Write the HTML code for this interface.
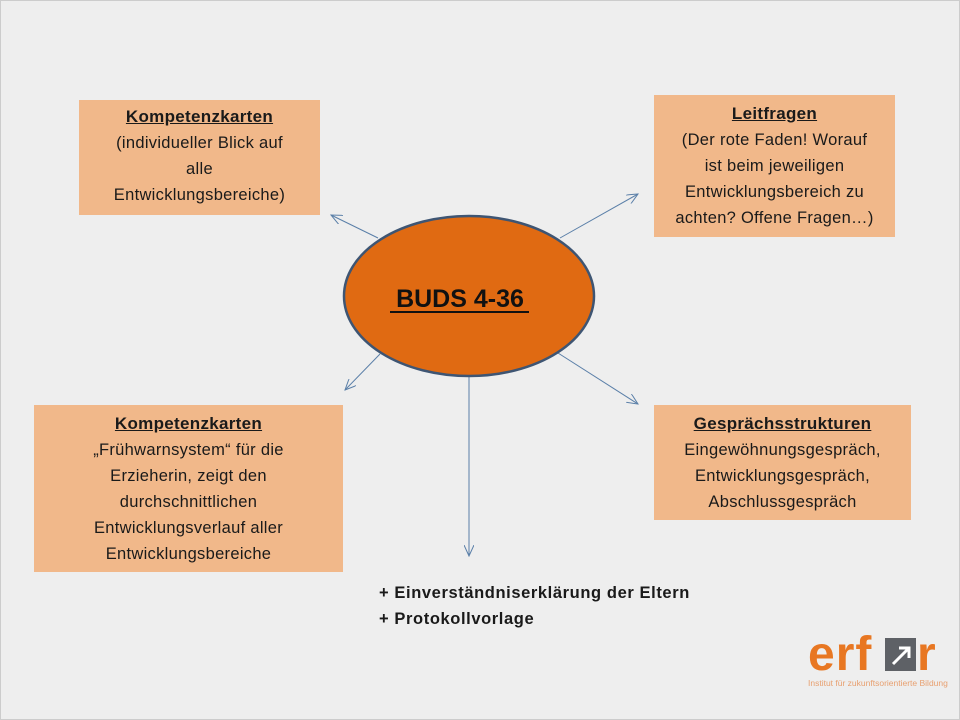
<!DOCTYPE html>
<html><head><meta charset="utf-8"><style>
body{margin:0;width:960px;height:720px;background:#eeeeee;position:relative;overflow:hidden;font-family:"Liberation Sans",sans-serif;}
.b{position:absolute;background:#f1b88a;text-align:center;color:#1a1a1a;font-size:16.5px;line-height:26px;box-sizing:border-box;padding-top:4px;letter-spacing:0.3px}
.b b{text-decoration:underline;font-size:17px}
.f{position:absolute;border:1px solid #ccc;left:0;top:0;width:958px;height:718px}
</style></head><body>
<div class="f"></div>
<div class="b" style="left:79px;top:100px;width:241px;height:115px"><b>Kompetenzkarten</b><br>(individueller Blick auf<br>alle<br>Entwicklungsbereiche)</div>
<div class="b" style="left:654px;top:95px;width:241px;height:142px;padding-top:6px"><b>Leitfragen</b><br>(Der rote Faden! Worauf<br>ist beim jeweiligen<br>Entwicklungsbereich zu<br>achten? Offene Fragen…)</div>
<div class="b" style="left:34px;top:405px;width:309px;height:167px;padding-top:6px"><b>Kompetenzkarten</b><br>„Frühwarnsystem“ für die<br>Erzieherin, zeigt den<br>durchschnittlichen<br>Entwicklungsverlauf aller<br>Entwicklungsbereiche</div>
<div class="b" style="left:654px;top:405px;width:257px;height:115px;padding-top:6px"><b>Gesprächsstrukturen</b><br>Eingewöhnungsgespräch,<br>Entwicklungsgespräch,<br>Abschlussgespräch</div>
<svg width="960" height="720" style="position:absolute;left:0;top:0">
<defs><marker id="a" markerWidth="12" markerHeight="10" refX="11" refY="5" orient="auto" markerUnits="userSpaceOnUse"><path d="M0,0 L11,5 L0,10" fill="none" stroke="#5a7fa8" stroke-width="1"/></marker></defs>
<g stroke="#5a7fa8" stroke-width="1" marker-end="url(#a)">
<line x1="378" y1="238" x2="331" y2="215"/>
<line x1="560" y1="238" x2="638" y2="194"/>
<line x1="380" y1="354" x2="345" y2="390"/>
<line x1="558" y1="353" x2="638" y2="404"/>
<line x1="469" y1="376" x2="469" y2="556"/>
</g>
<ellipse cx="469" cy="296" rx="125" ry="80" fill="#e06a12" stroke="#3e5573" stroke-width="2.5"/>
<text x="460" y="307" text-anchor="middle" font-family="Liberation Sans" font-weight="bold" font-size="25" fill="#111">BUDS 4-36</text>
<line x1="390" y1="312" x2="529" y2="312" stroke="#111" stroke-width="2"/>
<text x="808" y="670" font-family="Liberation Sans" font-weight="bold" font-size="48" fill="#e87722" letter-spacing="1">erf</text>
<rect x="885" y="638" width="31" height="33" fill="#5e6166"/>
<path d="M893,664 L909,648 M899,648 L909,648 L909,658" stroke="#fff" stroke-width="3" fill="none"/>
<text x="917" y="670" font-family="Liberation Sans" font-weight="bold" font-size="48" fill="#e87722">r</text>
<text x="808" y="686" font-family="Liberation Sans" font-size="8.5" fill="#e8a070">Institut für zukunftsorientierte Bildung</text>
</svg>
<div style="position:absolute;left:379px;top:580px;font-size:16.5px;letter-spacing:0.6px;font-weight:bold;line-height:26px;color:#1a1a1a">+ Einverständniserklärung der Eltern<br>+ Protokollvorlage</div>
</body></html>
